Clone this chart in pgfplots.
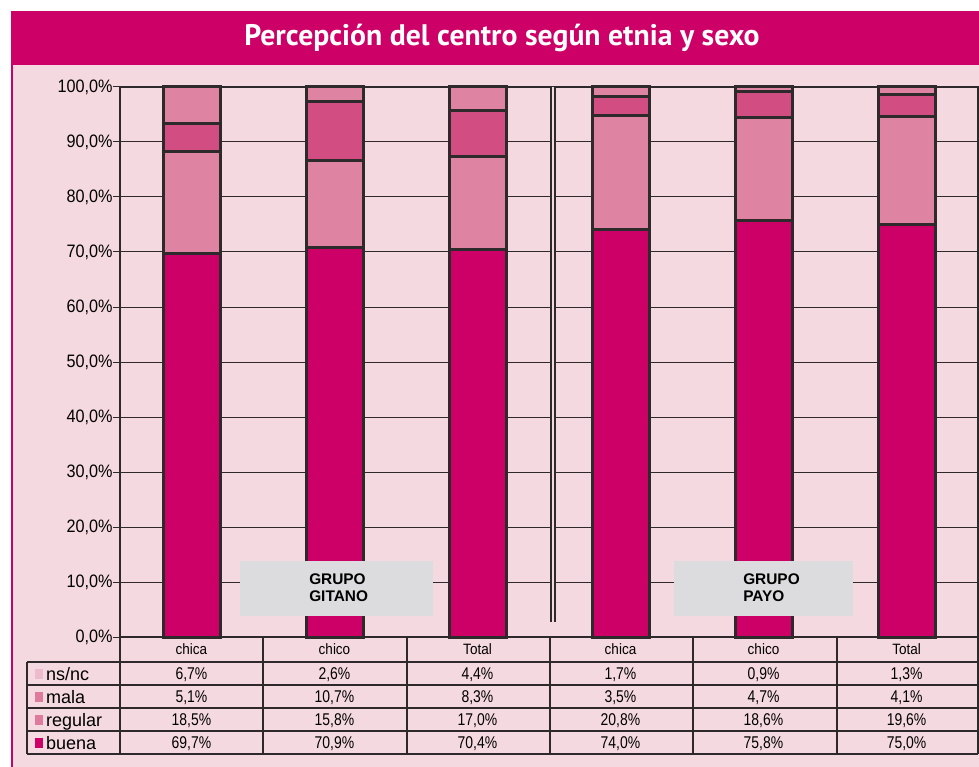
\documentclass[border=0pt]{standalone}
\usepackage{pgfplots}
\pgfplotsset{compat=1.18}
\usepackage{pgfplotstable}
\usepackage{fontspec}
\setmainfont{Liberation Sans}
\newfontfamily\titlefont{PT Sans}
\definecolor{mag}{HTML}{CC0066}
\definecolor{bgpink}{HTML}{F5D9E0}
\definecolor{reg}{HTML}{DE84A2}
\definecolor{mal}{HTML}{D24E82}
\definecolor{nsl}{HTML}{EEBBCC}
\definecolor{legm}{HTML}{DE7A9C}
\definecolor{boxg}{HTML}{DCDCDE}
\definecolor{ln}{HTML}{2E2A2C}

\pgfplotstableread{
x buena regular mala nsnc
0 69.7 18.5 5.1 6.7
1 70.9 15.8 10.7 2.6
2 70.4 17.0 8.3 4.4
3 74.0 20.8 3.5 1.7
4 75.8 18.6 4.7 0.9
5 75.0 19.6 4.1 1.3
}\data

\begin{document}
\begin{tikzpicture}[x=1pt,y=1pt]
\path[use as bounding box] (0,0) rectangle (979,-767);
\fill[white] (0,0) rectangle (979,-767);
\fill[bgpink] (11,-11) rectangle (979,-767);
\fill[mag] (11,-11) rectangle (979,-65);
\fill[mag] (11,-11) rectangle (13,-767);
\node[white, anchor=base, font=\titlefont\bfseries\fontsize{29.7}{31}\selectfont] at (502,-45.5) {Percepción del centro según etnia y sexo};

\begin{axis}[
  at={(120pt,-637pt)}, anchor=south west,
  scale only axis, width=858pt, height=550pt,
  xmin=-0.5, xmax=5.5, ymin=0, ymax=100,
  ybar stacked, bar width=57pt,
  xtick={0,...,5},
  xticklabels={chica,chico,Total,chica,chico,Total},
  xtick style={draw=none},
  xticklabel style={font=\fontsize{15}{16}\selectfont, xscale=0.9, anchor=base, yshift=-10pt},
  ytick={0,10,...,100},
  ytick style={ln, line width=1pt},
  tick align=outside, major tick length=7pt,
  /pgf/number format/assume math mode=true,
  yticklabel={\pgfmathprintnumber[fixed,fixed zerofill,precision=1,use comma]{\tick}\%},
  yticklabel style={font=\fontsize{18}{20}\selectfont, xscale=0.9, xshift=3pt},
  ymajorgrids, grid style={ln, line width=1pt},
  axis line style={ln, line width=1.5pt},
  clip=false,
]
\addplot[fill=mag, draw=ln, line width=3pt] table[x=x, y=buena]{\data};
\addplot[fill=reg, draw=ln, line width=3pt] table[x=x, y=regular]{\data};
\addplot[fill=mal, draw=ln, line width=3pt] table[x=x, y=mala]{\data};
\addplot[fill=reg, draw=ln, line width=3pt] table[x=x, y=nsnc]{\data};
\coordinate (s1) at (axis cs:2.528,2.7);
\coordinate (s2) at (axis cs:2.528,100);
\coordinate (ga) at (axis cs:0.339,3.8);
\coordinate (gb) at (axis cs:1.689,13.8);
\coordinate (gt) at (axis cs:0.822,9.0);
\coordinate (pa) at (axis cs:3.374,3.8);
\coordinate (pb) at (axis cs:4.626,13.8);
\coordinate (pt) at (axis cs:3.857,9.0);
\end{axis}

\draw[ln, line width=2pt, double=bgpink, double distance=1.5pt] (s1) -- (s2);
\fill[boxg] (ga) rectangle (gb);
\fill[boxg] (pa) rectangle (pb);
\node[anchor=west, align=left, font=\bfseries\fontsize{15.4}{16.5}\selectfont, inner sep=0pt] at (gt) {GRUPO\\GITANO};
\node[anchor=west, align=left, font=\bfseries\fontsize{15.4}{16.5}\selectfont, inner sep=0pt] at (pt) {GRUPO\\PAYO};

% table grid
\begin{scope}[ln, line width=1.2pt]
\foreach \yy in {662,685,708,731,754} \draw (27,-\yy) -- (978,-\yy);
\draw (27,-662) -- (27,-754);
\foreach \xx in {120,263,407,550,693,837,978} \draw (\xx,-637) -- (\xx,-754);
\end{scope}

% legend
\fill[nsl] (35,-669) rectangle (43,-679);
\fill[legm] (35,-692) rectangle (43,-702);
\fill[legm] (35,-715) rectangle (43,-725);
\fill[mag] (35,-738) rectangle (43,-748);
\begin{scope}[every node/.style={anchor=base west, inner sep=0pt, font=\fontsize{18}{19}\selectfont}]
\node at (46,-680.5) {ns/nc};
\node at (46,-703.5) {mala};
\node at (46,-726.5) {regular};
\node at (46,-749.5) {buena};
\end{scope}

\pgfkeys{/pgf/number format/.cd, fixed, fixed zerofill, precision=1, use comma, assume math mode=true}
\foreach \i/\n/\m/\r/\b in {0/6.7/5.1/18.5/69.7, 1/2.6/10.7/15.8/70.9, 2/4.4/8.3/17.0/70.4, 3/1.7/3.5/20.8/74.0, 4/0.9/4.7/18.6/75.8, 5/1.3/4.1/19.6/75.0}{
  \pgfmathsetmacro\cx{191.5+143*\i}
  \begin{scope}[every node/.style={anchor=base, inner sep=0pt, xscale=0.82, font=\fontsize{17}{18}\selectfont}]
  \node at (\cx,-679.5) {\pgfmathprintnumber{\n}\%};
  \node at (\cx,-702.5) {\pgfmathprintnumber{\m}\%};
  \node at (\cx,-725.5) {\pgfmathprintnumber{\r}\%};
  \node at (\cx,-748.5) {\pgfmathprintnumber{\b}\%};
  \end{scope}
}
\end{tikzpicture}
\end{document}
